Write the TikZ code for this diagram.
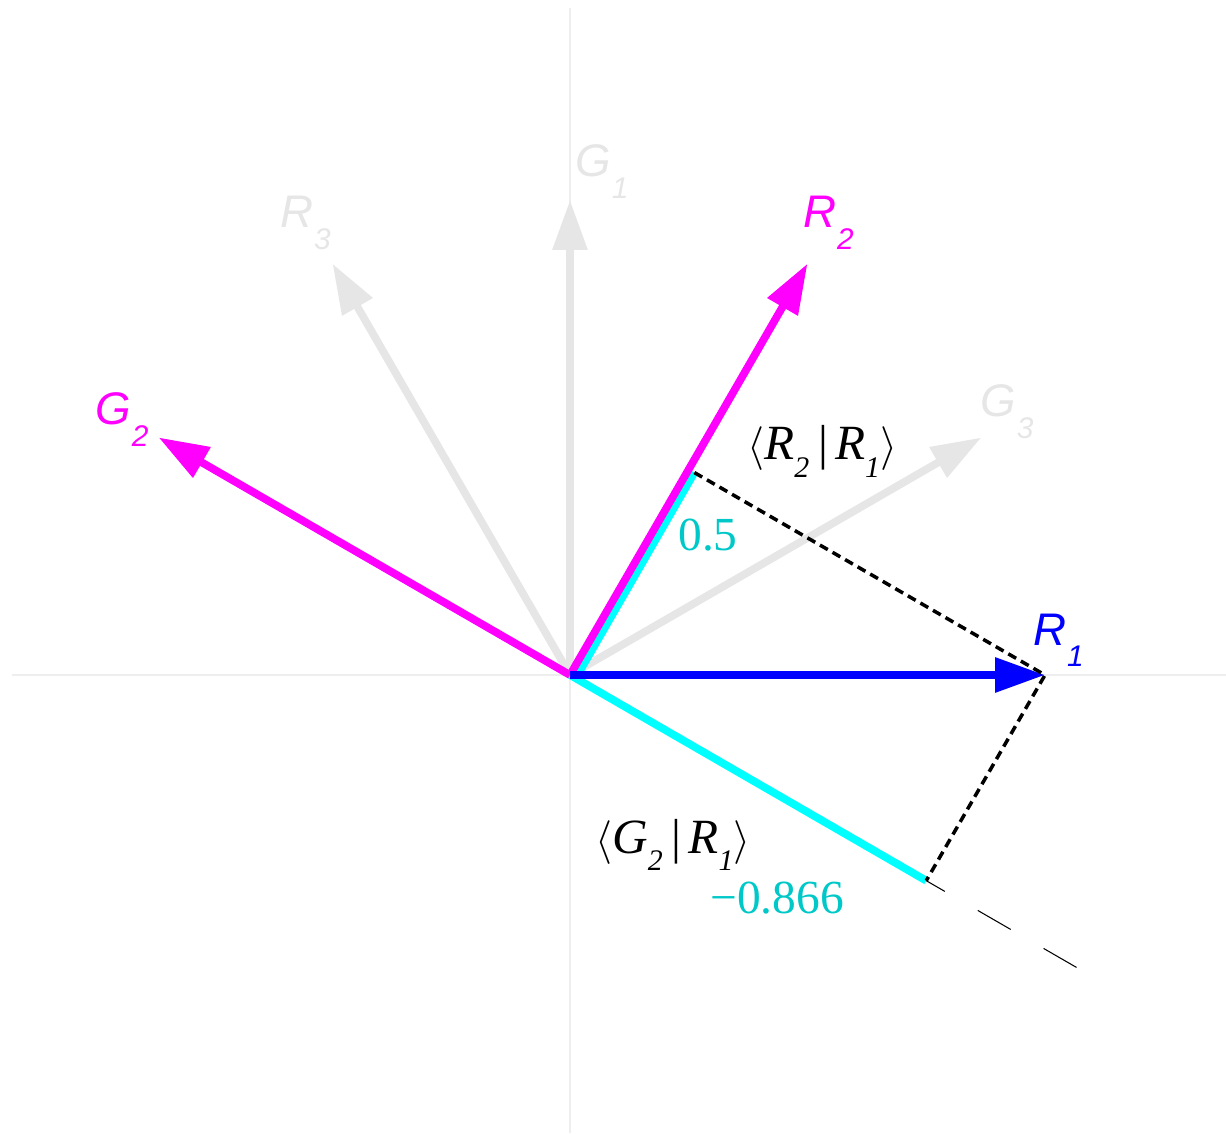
\documentclass[tikz,border=0pt]{standalone}
\usepackage{fontspec}
\setmainfont{Liberation Serif}
\setsansfont{Liberation Sans}
\usetikzlibrary{arrows.meta}

\definecolor{ghostgray}{RGB}{230,230,230}
\definecolor{axisgray}{RGB}{238,238,238}
\definecolor{projtext}{RGB}{0,200,200}
\definecolor{vmag}{RGB}{255,0,255}
\definecolor{vcyan}{RGB}{0,255,255}
\definecolor{vblue}{RGB}{0,0,255}

\newcommand{\vlab}[2]{\textit{#1}\kern0.5pt\raisebox{-12pt}{\fontsize{17}{17}\selectfont\textit{#2}}}
\newcommand{\ipsub}[1]{\raisebox{-10pt}{\fontsize{17}{17}\selectfont\textit{#1}}}

\begin{document}
\begin{tikzpicture}[
    axis/.style={draw=axisgray, line width=0.6pt},
    vec/.style={-{Triangle[length=1cm, width=0.67cm]}, line width=0.155cm},
    ghost/.style={vec, draw=ghostgray},
    proj/.style={draw=vcyan, line width=0.155cm},
    drop/.style={draw=black, line width=2pt, dash pattern=on 0.18cm off 0.11cm},
    ext/.style={draw=black, line width=0.6pt, dash pattern=on 0.76cm off 0.76cm, dash phase=0.33cm},
    vlabel/.style={font=\sffamily\fontsize{26}{28}\selectfont, inner sep=0pt, anchor=base west},
    iplabel/.style={font=\fontsize{28}{30}\selectfont, inner sep=0pt, anchor=base west},
    numlabel/.style={font=\fontsize{27}{29}\selectfont, text=projtext, inner sep=0pt, anchor=base west}
]
\useasboundingbox (-11.4,-9.16) rectangle (13.12,13.5);

% origin, axes and vector tips
\coordinate (O) at (0,0);
\coordinate (xw) at (-11.16,0);
\coordinate (xe) at (13.12,0);
\coordinate (yn) at (0,13.34);
\coordinate (ys) at (0,-9.16);
\coordinate (r1) at (0:9.5);
\coordinate (g3) at (30:9.5);
\coordinate (r2) at (60:9.5);
\coordinate (g1) at (90:9.5);
\coordinate (r3) at (120:9.5);
\coordinate (g2) at (150:9.5);
\coordinate (p) at ([shift={(-30:0.13)}]60:4.75);
\coordinate (q) at (-30:8.227);
\coordinate (e) at (-30:11.7);

\draw[axis] (xw) -- (xe);
\draw[axis] (ys) -- (yn);

\draw[ghost] (O) -- (g1);
\draw[ghost] (O) -- (r3);
\draw[ghost] (O) -- (g3);

% projections onto R1
\draw[proj] ([shift={(-30:0.13)}]O) -- (p);
\draw[proj] (O) -- (q);

\draw[vec, vmag] (O) -- (r2);
\draw[vec, vmag] (O) -- (g2);
\draw[vec, vblue] (O) -- (r1);

\draw[drop] (p) -- (r1) -- (q);
\draw[ext] (q) -- (e);

% labels
\node[vlabel, text=ghostgray] (lG1) at (0.10,9.96) {\vlab{G}{1}};
\node[vlabel, text=ghostgray] (lR3) at (-5.80,8.94) {\vlab{R}{3}};
\node[vlabel, text=vmag] (lR2) at (4.66,8.94) {\vlab{R}{2}};
\node[vlabel, text=vmag] (lG2) at (-9.50,5.00) {\vlab{G}{2}};
\node[vlabel, text=ghostgray] (lG3) at (8.20,5.16) {\vlab{G}{3}};
\node[vlabel, text=vblue] (lR1) at (9.26,0.60) {\vlab{R}{1}};

\node[iplabel] (ipR) at (3.54,4.30) {$\langle$\textit{R}\ipsub{2}\kern5pt|\kern4pt\textit{R}\ipsub{1}$\rangle$};
\node[iplabel] (ipG) at (0.50,-3.56) {$\langle$\textit{G}\ipsub{2}\kern5pt|\kern4pt\textit{R}\ipsub{1}$\rangle$};

\node[numlabel] (vhalf) at (2.16,2.50) {0.5};
\node[numlabel] (vroot) at (2.80,-4.76) {−0.866};

\end{tikzpicture}
\end{document}
